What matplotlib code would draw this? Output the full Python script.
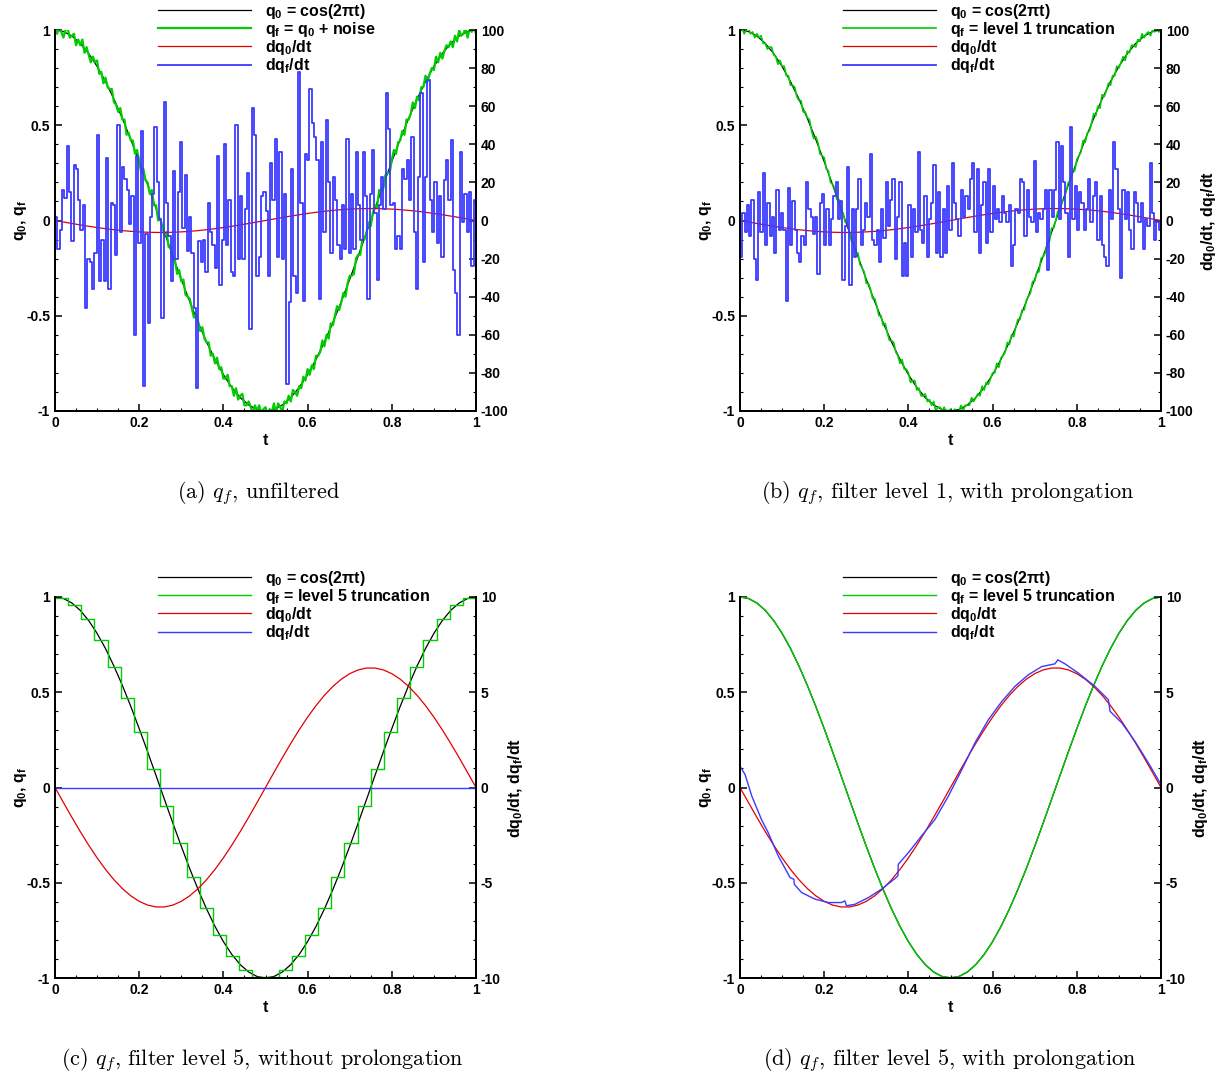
import matplotlib
matplotlib.use('Agg')
import matplotlib.pyplot as plt
import numpy as np
from matplotlib.ticker import MultipleLocator

plt.rcParams['font.family'] = ['Liberation Sans', 'DejaVu Sans']
plt.rcParams['font.weight'] = 'bold'
plt.rcParams['axes.labelweight'] = 'bold'
plt.rcParams['mathtext.fontset'] = 'custom'
plt.rcParams['mathtext.rm'] = 'Liberation Sans:bold'
plt.rcParams['mathtext.it'] = 'Liberation Sans:bold'
plt.rcParams['mathtext.bf'] = 'Liberation Sans:bold'
plt.rcParams['mathtext.default'] = 'rm'
plt.rcParams['axes.unicode_minus'] = False

# exact solution q0 = cos(2 pi t) and dq0/dt, sampled every 0.02
t51 = np.linspace(0, 1, 51)
q0 = [1.0, 0.9921, 0.9686, 0.9298, 0.8763, 0.8090, 0.7290, 0.6374, 0.5358, 0.4258,
      0.3090, 0.1874, 0.0628, -0.0628, -0.1874, -0.3090, -0.4258, -0.5358, -0.6374, -0.7290,
      -0.8090, -0.8763, -0.9298, -0.9686, -0.9921, -1.0, -0.9921, -0.9686, -0.9298, -0.8763,
      -0.8090, -0.7290, -0.6374, -0.5358, -0.4258, -0.3090, -0.1874, -0.0628, 0.0628, 0.1874,
      0.3090, 0.4258, 0.5358, 0.6374, 0.7290, 0.8090, 0.8763, 0.9298, 0.9686, 0.9921, 1.0]
dq0 = [0, -0.787, -1.563, -2.313, -3.027, -3.693, -4.301, -4.841, -5.305, -5.685,
       -5.976, -6.172, -6.271, -6.271, -6.172, -5.976, -5.685, -5.305, -4.841, -4.301,
       -3.693, -3.027, -2.313, -1.563, -0.787, 0, 0.787, 1.563, 2.313, 3.027,
       3.693, 4.301, 4.841, 5.305, 5.685, 5.976, 6.172, 6.271, 6.271, 6.172,
       5.976, 5.685, 5.305, 4.841, 4.301, 3.693, 3.027, 2.313, 1.563, 0.787, 0]

# (a) q0 + noise, every 0.005
t201 = np.linspace(0, 1, 201)
qf_a = [1.01, 0.98, 1.02, 0.99, 0.96, 1.00, 1.01, 0.96, 0.97, 0.98,
        0.92, 0.95, 0.92, 0.95, 0.88, 0.91, 0.87, 0.83, 0.86, 0.83,
        0.84, 0.77, 0.78, 0.72, 0.75, 0.70, 0.69, 0.69, 0.62, 0.61,
        0.57, 0.59, 0.53, 0.53, 0.45, 0.46, 0.42, 0.42, 0.35, 0.37,
        0.31, 0.25, 0.27, 0.21, 0.20, 0.14, 0.16, 0.08, 0.08, 0.00,
        0.01, -0.03, -0.08, -0.06, -0.14, -0.14, -0.21, -0.21, -0.28, -0.26,
        -0.32, -0.31, -0.39, -0.40, -0.41, -0.46, -0.51, -0.49, -0.53, -0.58,
        -0.56, -0.62, -0.64, -0.64, -0.71, -0.70, -0.75, -0.72, -0.78, -0.77,
        -0.83, -0.83, -0.81, -0.87, -0.87, -0.92, -0.88, -0.94, -0.92, -0.91,
        -0.97, -0.97, -0.95, -0.98, -1.01, -0.97, -1.00, -0.97, -1.02, -0.99,
        -0.98, -1.03, -0.99, -1.01, -0.96, -1.01, -0.96, -0.98, -1.00, -0.95,
        -0.96, -0.92, -0.95, -0.89, -0.90, -0.92, -0.87, -0.88, -0.82, -0.84,
        -0.78, -0.81, -0.76, -0.78, -0.71, -0.71, -0.69, -0.63, -0.66, -0.60,
        -0.62, -0.54, -0.55, -0.50, -0.45, -0.47, -0.43, -0.38, -0.40, -0.33,
        -0.29, -0.29, -0.28, -0.20, -0.18, -0.18, -0.10, -0.10, -0.06, -0.01,
        -0.03, 0.04, 0.08, 0.07, 0.16, 0.15, 0.17, 0.24, 0.25, 0.25,
        0.32, 0.37, 0.35, 0.41, 0.42, 0.47, 0.45, 0.53, 0.53, 0.56,
        0.62, 0.59, 0.65, 0.63, 0.70, 0.70, 0.76, 0.73, 0.77, 0.80,
        0.79, 0.86, 0.83, 0.88, 0.85, 0.89, 0.92, 0.91, 0.94, 0.91,
        0.97, 0.94, 1.00, 0.97, 0.98, 1.01, 0.96, 1.01, 0.99, 1.02, 0.98]
dqf_a = [2, -15, -5, 16, 12, 39, 15, -11, 29, 27, 11, -5, 8, -46, -20, -22, -36, -17, 45, -32,
         -10, -32, 33, -36, 9, 8, -18, 50, -6, 28, 22, 16, -2, 13, -60, 34, -12, 47, -87, -7,
         -54, 2, 14, 49, 20, 1, -51, 62, 9, -8, -32, 26, -20, 15, 41, -4, 24, -16, 2, -17,
         -46, -88, -11, -22, -10, -27, 9, -6, -13, -25, 34, -34, -10, 40, -13, 11, -27, -29, 50, -20,
         13, -20, 6, 25, -57, 59, 45, -29,
         -19, 13, 15, 5, -29, 30, 11, 43, -19, 36, -20, 14, -86, -43, 27, -29, -38, 78, 9, -42,
         35, 32, 69, 51, 44, 32, -41, 41, -6, 53, 20, -17, 23, 11, -13, -20, 8, -15, 43, -17,
         14, -15, 36, 8, -10, 36, 13, -41, 14, 37, 4, -31, 8, 23, 6, 67, 48, 8, 9, -15,
         -8, -15, 27, 22, 32, 11, 44, -6, -36, 23, 67, -22, 23, 74, 11, -6, 20, -12, 13, -19,
         21, 32, 11, 42, -26, -38, -60, 36, -1, 14, -6, 15, -24, 11]

# (b) level 1 truncation
qf_b = [0.99, 1.01, 0.98, 1.00, 1.01, 0.98, 0.99, 0.96, 0.98, 0.96,
        0.97, 0.93, 0.93, 0.90, 0.91, 0.91, 0.87, 0.86, 0.82, 0.84,
        0.81, 0.81, 0.76, 0.76, 0.71, 0.71, 0.70, 0.65, 0.63, 0.63,
        0.57, 0.57, 0.54, 0.53, 0.47, 0.43, 0.44, 0.41, 0.35, 0.34,
        0.33, 0.27, 0.26, 0.20, 0.19, 0.17, 0.11, 0.11, 0.05, 0.04,
        -0.01, -0.01, -0.06, -0.11, -0.12, -0.17, -0.17, -0.23, -0.25, -0.27,
        -0.33, -0.33, -0.36, -0.41, -0.41, -0.45, -0.50, -0.50, -0.55, -0.54,
        -0.59, -0.63, -0.63, -0.64, -0.69, -0.71, -0.75, -0.73, -0.78, -0.78,
        -0.80, -0.85, -0.84, -0.84, -0.89, -0.88, -0.92, -0.92, -0.91, -0.95,
        -0.94, -0.97, -0.95, -1.00, -0.98, -0.98, -1.00, -0.98, -1.01, -1.00,
        -0.99, -1.02, -0.99, -1.00, -1.00, -0.97, -1.00, -0.97, -0.97, -0.97,
        -0.93, -0.95, -0.93, -0.91, -0.92, -0.87, -0.89, -0.85, -0.86, -0.83,
        -0.80, -0.80, -0.75, -0.77, -0.72, -0.71, -0.69, -0.64, -0.65, -0.60,
        -0.61, -0.56, -0.52, -0.52, -0.47, -0.47, -0.42, -0.40, -0.38, -0.32,
        -0.32, -0.27, -0.27, -0.20, -0.19, -0.17, -0.12, -0.11, -0.04, -0.04,
        0.00, 0.05, 0.05, 0.10, 0.11, 0.16, 0.20, 0.21, 0.27, 0.26,
        0.32, 0.34, 0.36, 0.42, 0.41, 0.46, 0.47, 0.51, 0.56, 0.55,
        0.60, 0.59, 0.66, 0.65, 0.68, 0.72, 0.71, 0.76, 0.76, 0.81,
        0.80, 0.83, 0.86, 0.84, 0.89, 0.88, 0.92, 0.92, 0.91, 0.95,
        0.94, 0.98, 0.96, 0.98, 0.99, 0.97, 1.00, 0.99, 1.02, 0.99, 1.00]
dqf_b = [-19, 4, -6, 8, -8, 11, -20, -31, 15, -6, 25, -13, 9, -8, 2, -17, 16, -5, 4, -5,
         -42, 17, -13, 10, -5, -17, -22, -8, -13, 20, 6, 2, -7, 2, -28, 9, 14, -13, 6, -13,
         1, 13, 20, 1, 10, -31, -3, 28, -34, 6, -19, 6, 22, -13, -5, 9, 2, 35, -10, -13,
         -5, -22, 6, -9, 20, -3, 11, 22, -20, 2, 20, -29, -12, -29, 8, -19, 6, -6, 36, -5,
         -12, 13, -19, 1, 9, 29, -17, 15, -19, 6, -17, 18, -5, 30, 9, 1, -8, 16, 2, 13,
         6, 22, 30, -6, 27, -17, 8, 20, -12, 27, -6, 18, 1, 6, -1, 13, 4, -1, 8, -24,
         -13, 6, 4, 22, 20, -8, 16, 2, -1, 31, -6, 4, 1, 6, 16, -26, 16, 2, 16, 41,
         1, 39, 20, 4, -19, 49, 1, 18, -5, 15, 9, -5, 6, 22, -1, 13, 20, -10, 13, -13,
         -19, -24, 16, 1, 41, 27, 6, -30, 16, 1, 15, -5, -15, 15, 9, -1, 9, -15, 1, -3,
         30, 4, -10, -1, -5]

# (c) level 5 truncation without prolongation: 32 cells
qf_c = [0.9952, 0.9569, 0.8819, 0.7730, 0.6344, 0.4714, 0.2903, 0.0980,
        -0.0980, -0.2903, -0.4714, -0.6344, -0.7730, -0.8819, -0.9569, -0.9952,
        -0.9952, -0.9569, -0.8819, -0.7730, -0.6344, -0.4714, -0.2903, -0.0980,
        0.0980, 0.2903, 0.4714, 0.6344, 0.7730, 0.8819, 0.9569, 0.9952]
dqf_c_t = [0, 1]
dqf_c = [0, 0]

# (d) level 5 truncation with prolongation
qf_d = [1.0, 0.9930, 0.9690, 0.9300, 0.8770, 0.8095, 0.7310, 0.6380, 0.5360, 0.4255,
        0.3085, 0.1870, 0.0625, -0.0630, -0.1878, -0.3092, -0.4260, -0.5360, -0.6376, -0.7292,
        -0.8092, -0.8765, -0.9300, -0.9688, -0.9922, -0.9980, -0.9925, -0.9688, -0.9300, -0.8765,
        -0.8092, -0.7292, -0.6376, -0.5360, -0.4258, -0.3090, -0.1874, -0.0628, 0.0628, 0.1874,
        0.3090, 0.4258, 0.5358, 0.6374, 0.7295, 0.8100, 0.8770, 0.9305, 0.9690, 0.9925, 1.0]
dqf_d_t = [0.0, 0.012, 0.028, 0.051, 0.067, 0.091, 0.119, 0.128, 0.129, 0.146, 0.178, 0.210,
           0.241, 0.249, 0.253, 0.273, 0.305, 0.336, 0.368, 0.375, 0.376, 0.400, 0.431, 0.463,
           0.495, 0.527, 0.558, 0.590, 0.622, 0.653, 0.685, 0.717, 0.748, 0.755, 0.772, 0.804,
           0.843, 0.875, 0.879, 0.907, 0.938, 0.970, 1.0]
dqf_d = [1.12, 0.68, -0.45, -1.68, -2.37, -3.60, -4.73, -4.82, -5.08, -5.51, -5.86, -6.04,
         -6.04, -5.95, -6.21, -6.13, -5.78, -5.34, -4.78, -4.64, -4.03, -3.42, -2.55, -1.68,
         -0.45, 0.94, 2.34, 3.56, 4.52, 5.31, 5.92, 6.35, 6.49, 6.70, 6.49, 6.00,
         5.31, 4.61, 4.00, 3.39, 2.43, 1.29, 0.16]

GREEN = '#00cc00'
RED = '#e00000'
BLUE = '#3a3aff'
W, H = 1219, 1076

fig = plt.figure(figsize=(W / 100, H / 100), dpi=100)


def panel(x0, y0, qf_t, qf, qf_step, dqf_t, dqf, dqf_step, rmax, rmajor, rminor,
          qf_label, caption, cap_x, right_label, glw, blw):
    ax = fig.add_axes([x0 / W, 1 - (y0 + 381) / H, 421 / W, 381 / H])
    ax2 = ax.twinx()
    l1, = ax.plot(t51, q0, color='black', lw=0.9)
    if qf_step:
        l2, = ax.step(qf_t, list(qf) + [qf[-1]], where='post', color=GREEN, lw=glw)
    else:
        l2, = ax.plot(qf_t, qf, color=GREEN, lw=glw)
    l3, = ax2.plot(t51, dq0, color=RED, lw=0.9)
    if dqf_step:
        l4, = ax2.step(dqf_t, list(dqf) + [dqf[-1]], where='post', color=BLUE, lw=blw)
    else:
        l4, = ax2.plot(dqf_t, dqf, color=BLUE, lw=blw)

    ax.set_xlim(0, 1)
    ax.set_ylim(-1, 1)
    ax2.set_ylim(-rmax, rmax)
    ax.set_xticks([0, 0.2, 0.4, 0.6, 0.8, 1])
    ax.set_xticklabels(['0', '0.2', '0.4', '0.6', '0.8', '1'])
    ax.set_yticks([-1, -0.5, 0, 0.5, 1])
    ax.set_yticklabels(['-1', '-0.5', '0', '0.5', '1'])
    rt = np.arange(-rmax, rmax + 1, rmajor)
    ax2.set_yticks(rt)
    ax2.set_yticklabels(['%d' % v for v in rt])
    ax.xaxis.set_minor_locator(MultipleLocator(0.05))
    ax.yaxis.set_minor_locator(MultipleLocator(0.1))
    ax2.yaxis.set_minor_locator(MultipleLocator(rminor))
    for a in (ax, ax2):
        a.spines['top'].set_visible(False)
        for s in ('left', 'right', 'bottom'):
            a.spines[s].set_linewidth(1.4)
        a.tick_params(which='major', direction='in', length=5, width=1.1, labelsize=10)
        a.tick_params(which='minor', direction='in', length=2.5, width=0.8)
    ax.tick_params(which='both', top=False, right=False)
    ax2.tick_params(which='both', left=False, right=True)

    ax.set_xlabel('t', fontsize=11.5, labelpad=2)
    ax.set_ylabel('q$_0$, q$_f$', fontsize=11.5, labelpad=-2)
    if right_label:
        ax2.set_ylabel('dq$_0$/dt, dq$_f$/dt', fontsize=11.5, rotation=90, labelpad=4)

    ax2.legend([l1, l2, l3, l4],
               ['q$_0$ = cos(2πt)', qf_label, 'dq$_0$/dt', 'dq$_f$/dt'],
               loc='upper left', bbox_to_anchor=((x0 + 103) / W, 1 - (y0 - 28) / H),
               bbox_transform=fig.transFigure, frameon=False, fontsize=11.5,
               handlelength=5.8, handletextpad=0.9, labelspacing=-0.06,
               borderpad=0, borderaxespad=0)

    fig.text(cap_x / W, 1 - (y0 + 463) / H, caption, family='cmr10', math_fontfamily='cm',
             fontsize=16, fontweight='normal', ha='center', va='center')


panel(55, 30, t201, qf_a, False, np.linspace(0, 1, len(dqf_a) + 1), dqf_a, True, 100, 20, 10,
      'q$_f$ = q$_0$ + noise', r'(a) $\mathit{q_f}$, unfiltered', 258, False, 1.6, 1.3)
panel(740, 30, t201, qf_b, False, np.linspace(0, 1, len(dqf_b) + 1), dqf_b, True, 100, 20, 10,
      'q$_f$ = level 1 truncation', r'(b) $\mathit{q_f}$, filter level 1, with prolongation', 948, True,
      1.2, 1.3)
panel(55, 597, np.linspace(0, 1, 33), qf_c, True, dqf_c_t, dqf_c, False, 10, 5, 1,
      'q$_f$ = level 5 truncation', r'(c) $\mathit{q_f}$, filter level 5, without prolongation', 262, True,
      1.0, 1.0)
panel(740, 597, t51, qf_d, False, dqf_d_t, dqf_d, False, 10, 5, 1,
      'q$_f$ = level 5 truncation', r'(d) $\mathit{q_f}$, filter level 5, with prolongation', 950, True,
      1.0, 1.0)

fig.savefig('out.png', dpi=100)
